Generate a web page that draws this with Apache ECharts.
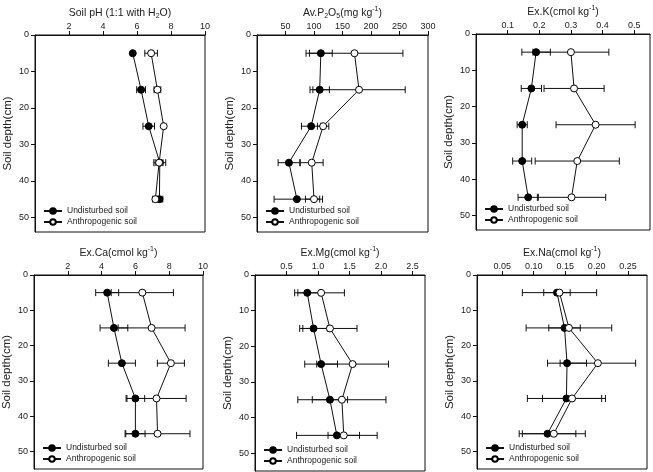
<!DOCTYPE html>
<html>
<head>
<meta charset="utf-8">
<script src="https://cdn.jsdelivr.net/npm/echarts@6/dist/echarts.min.js"></script>
<style>
  html, body { margin: 0; padding: 0; background: #fff; }
  #chart { width: 653px; height: 472px; }
</style>
</head>
<body>
<div id="chart"></div>
<script>
var depths = [5, 15, 25, 35, 45];
var depthTicks = [0, 10, 20, 30, 40, 50];

// Soil pH
var phUnd = [5.75, 6.24, 6.69, 7.34, 7.32];
var phUndErr = [0.05, 0.26, 0.34, 0.35, 0.2];
var phAnt = [6.83, 7.2, 7.57, 7.3, 7.08];
var phAntErr = [0.37, 0.2, 0.05, 0.23, 0.15];
var phTicks = [2, 4, 6, 8, 10];

// Av.P2O5
var pUnd = [112, 110, 95, 56, 70];
var pUndErr = [20, 17, 17, 19, 40];
var pAnt = [171, 179, 116, 96, 100];
var pAntErr = [85, 81, 10, 20, 15];
var pTicks = [50, 100, 150, 200, 250, 300];

// Ex.K
var kUnd = [0.19, 0.175, 0.146, 0.146, 0.165];
var kUndErr = [0.045, 0.032, 0.016, 0.03, 0.032];
var kAnt = [0.3, 0.31, 0.378, 0.32, 0.302];
var kAntErr = [0.12, 0.095, 0.125, 0.133, 0.108];
var kTicks = [0.1, 0.2, 0.3, 0.4, 0.5];

// Ex.Ca
var caUnd = [4.33, 4.73, 5.2, 6.0, 6.0];
var caUndErr = [0.68, 0.82, 0.8, 0.55, 0.57];
var caAnt = [6.41, 6.96, 8.1, 7.25, 7.31];
var caAntErr = [1.84, 1.98, 0.8, 1.75, 1.92];
var caTicks = [2, 4, 6, 8, 10];

// Ex.Mg
var mgUnd = [0.83, 0.93, 1.05, 1.19, 1.3];
var mgUndErr = [0.2, 0.22, 0.26, 0.28, 0.64];
var mgAnt = [1.05, 1.19, 1.55, 1.38, 1.41];
var mgAntErr = [0.37, 0.43, 0.57, 0.7, 0.25];
var mgTicks = [0.5, 1.0, 1.5, 2.0, 2.5];

// Ex.Na
var naUnd = [0.137, 0.149, 0.153, 0.152, 0.122];
var naUndErr = [0.021, 0.025, 0.031, 0.062, 0.045];
var naAnt = [0.141, 0.156, 0.202, 0.161, 0.132];
var naAntErr = [0.059, 0.068, 0.06, 0.047, 0.05];
var naTicks = [0.05, 0.1, 0.15, 0.2, 0.25];

var FONT = "'Liberation Sans', Arial, sans-serif";
var INK = '#111';

var panels = [
  { title: 'Soil pH (1:1 with H{sub|2}O)', min: 0, max: 10, ticks: phTicks, dec: 0,
    grid: { left: 35, top: 35, width: 170, height: 197 }, ymax: 54,
    und: phUnd, undErr: phUndErr, ant: phAnt, antErr: phAntErr },
  { title: 'Av.P{sub|2}O{sub|5}(mg kg{sup|-1})', min: 0, max: 300, ticks: pTicks, dec: 0,
    grid: { left: 257, top: 35, width: 171, height: 197 }, ymax: 54,
    und: pUnd, undErr: pUndErr, ant: pAnt, antErr: pAntErr },
  { title: 'Ex.K(cmol kg{sup|-1})', min: 0, max: 0.55, ticks: kTicks, dec: 1,
    grid: { left: 476, top: 34, width: 174, height: 196 }, ymax: 54,
    und: kUnd, undErr: kUndErr, ant: kAnt, antErr: kAntErr },
  { title: 'Ex.Ca(cmol kg{sup|-1})', min: 0, max: 10, ticks: caTicks, dec: 0,
    grid: { left: 34, top: 275, width: 169, height: 194 }, ymax: 55,
    und: caUnd, undErr: caUndErr, ant: caAnt, antErr: caAntErr },
  { title: 'Ex.Mg(cmol kg{sup|-1})', min: 0, max: 2.7, ticks: mgTicks, dec: 1,
    grid: { left: 255, top: 275, width: 170, height: 196 }, ymax: 55,
    und: mgUnd, undErr: mgUndErr, ant: mgAnt, antErr: mgAntErr },
  { title: 'Ex.Na(cmol kg{sup|-1})', min: 0.01, max: 0.28, ticks: naTicks, dec: 2,
    grid: { left: 477, top: 275, width: 170, height: 194 }, ymax: 55,
    und: naUnd, undErr: naUndErr, ant: naAnt, antErr: naAntErr }
];

function errorBars(idx, vals, errs) {
  return {
    type: 'custom',
    xAxisIndex: idx,
    yAxisIndex: idx,
    silent: true,
    z: 1,
    data: vals.map(function (v, i) { return [v - errs[i], v + errs[i], depths[i]]; }),
    encode: { x: [0, 1], y: 2 },
    renderItem: function (params, api) {
      var lo = api.coord([api.value(0), api.value(2)]);
      var hi = api.coord([api.value(1), api.value(2)]);
      var h = 3.5;
      var st = { stroke: INK, lineWidth: 1 };
      return {
        type: 'group',
        children: [
          { type: 'line', shape: { x1: lo[0], y1: lo[1], x2: hi[0], y2: hi[1] }, style: st },
          { type: 'line', shape: { x1: lo[0], y1: lo[1] - h, x2: lo[0], y2: lo[1] + h }, style: st },
          { type: 'line', shape: { x1: hi[0], y1: hi[1] - h, x2: hi[0], y2: hi[1] + h }, style: st }
        ]
      };
    }
  };
}

var grids = [], xAxes = [], yAxes = [], series = [], legends = [];

panels.forEach(function (p, i) {
  grids.push({
    left: p.grid.left, top: p.grid.top, width: p.grid.width, height: p.grid.height,
    show: true, borderColor: INK, borderWidth: 1, backgroundColor: 'transparent'
  });
  xAxes.push({
    type: 'value', gridIndex: i, position: 'top', min: p.min, max: p.max,
    axisLine: { show: true, lineStyle: { color: INK, width: 1 } },
    axisTick: { show: true, length: 4, customValues: p.ticks, lineStyle: { color: INK } },
    axisLabel: {
      customValues: p.ticks, fontSize: 9, margin: 4, color: '#222', fontFamily: FONT,
      formatter: (function (d) { return function (v) { return v.toFixed(d); }; })(p.dec)
    },
    splitLine: { show: false },
    name: p.title, nameLocation: 'middle', nameGap: 15,
    nameTextStyle: {
      fontSize: 10.5, color: '#222', fontFamily: FONT, lineHeight: 14,
      rich: {
        sub: { fontSize: 7, lineHeight: 7, verticalAlign: 'bottom', color: '#222', fontFamily: FONT },
        sup: { fontSize: 7, lineHeight: 7, verticalAlign: 'top', color: '#222', fontFamily: FONT }
      }
    }
  });
  yAxes.push({
    type: 'value', gridIndex: i, inverse: true, min: 0, max: p.ymax,
    axisLine: { show: true, lineStyle: { color: INK, width: 1 } },
    axisTick: { show: true, length: 4, customValues: depthTicks, lineStyle: { color: INK } },
    axisLabel: { customValues: depthTicks, fontSize: 9, margin: 6, color: '#222', fontFamily: FONT },
    splitLine: { show: false },
    name: 'Soil depth(cm)', nameLocation: 'middle', nameGap: 21,
    nameTextStyle: { fontSize: 11.5, color: '#222', fontFamily: FONT }
  });

  series.push(errorBars(i, p.und, p.undErr));
  series.push(errorBars(i, p.ant, p.antErr));
  series.push({
    name: 'Undisturbed soil', type: 'line', xAxisIndex: i, yAxisIndex: i,
    data: p.und.map(function (v, k) { return [v, depths[k]]; }),
    symbol: 'circle', symbolSize: 7, z: 3,
    itemStyle: { color: '#000', borderColor: '#000', borderWidth: 1 },
    lineStyle: { color: INK, width: 1 }
  });
  series.push({
    name: 'Anthropogenic soil', type: 'line', xAxisIndex: i, yAxisIndex: i,
    data: p.ant.map(function (v, k) { return [v, depths[k]]; }),
    symbol: 'circle', symbolSize: 7, z: 4,
    itemStyle: { color: '#fff', borderColor: '#000', borderWidth: 1 },
    lineStyle: { color: INK, width: 1 }
  });

  legends.push({
    orient: 'vertical', left: p.grid.left + 8, top: p.grid.top + p.grid.height - 26,
    padding: 0, height: 24,
    itemWidth: 18, itemHeight: 7, itemGap: 1, selectedMode: false,
    data: ['Undisturbed soil', 'Anthropogenic soil'],
    textStyle: { fontSize: 8.5, color: '#222', fontFamily: FONT, lineHeight: 10 }
  });
});

var chart = echarts.init(document.getElementById('chart'));
chart.setOption({
  animation: false,
  backgroundColor: '#fff',
  grid: grids,
  xAxis: xAxes,
  yAxis: yAxes,
  legend: legends,
  series: series
});
</script>
</body>
</html>
